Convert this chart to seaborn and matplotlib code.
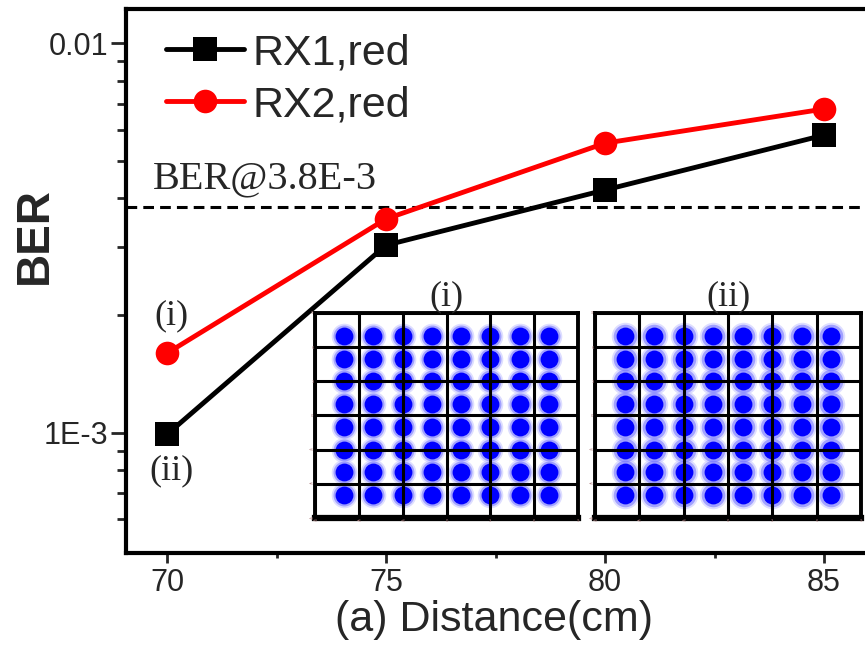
import numpy as np
import pandas as pd
import matplotlib.pyplot as plt
import seaborn as sns
from matplotlib.ticker import FixedLocator, NullFormatter

# BER vs distance
distance = [70, 75, 80, 85]
ber_rx1 = [0.00099, 0.00303, 0.0042, 0.00581]
ber_rx2 = [0.0016, 0.00354, 0.00554, 0.00678]
ber_limit = 3.8e-3

# 64-QAM constellation levels for the insets
qam_levels = [-7, -5, -3, -1, 1, 3, 5, 7]
inset_ticks = [-9, -6, -3, 0, 3, 6, 9]

sns.set_style("ticks")
plt.rcParams['font.family'] = ['Liberation Sans', 'DejaVu Sans']

fig = plt.figure(figsize=(8.65, 6.48), dpi=100)
ax = fig.add_axes([0.1457, 0.1466, 0.9082, 0.8395])

sns.lineplot(x=distance, y=ber_rx1, ax=ax, color='black', marker='s',
             markersize=17, markeredgewidth=0, linewidth=3.5, label='RX1,red')
sns.lineplot(x=distance, y=ber_rx2, ax=ax, color='red', marker='o',
             markersize=17, markeredgewidth=0, linewidth=3.5, label='RX2,red')
ax.axhline(ber_limit, color='black', linewidth=2.2, dashes=(3.5, 2), zorder=1)

ax.set_yscale('log')
ax.set_xlim(69.064, 87)
ax.set_ylim(4.91e-4, 1.2246e-2)

ax.yaxis.set_major_locator(FixedLocator([1e-3, 1e-2]))
ax.set_yticklabels(['1E-3', '0.01'])
minor_y = [6e-4, 7e-4, 8e-4, 9e-4] + [k * 1e-3 for k in range(2, 10)]
ax.yaxis.set_minor_locator(FixedLocator(minor_y))
ax.yaxis.set_minor_formatter(NullFormatter())
ax.xaxis.set_major_locator(FixedLocator(distance))
ax.xaxis.set_minor_locator(FixedLocator([72.5, 77.5, 82.5]))

ax.tick_params(axis='y', which='major', direction='out', length=11, width=2,
               labelsize=22, pad=2, left=True)
ax.tick_params(axis='y', which='minor', direction='out', length=6.5, width=2, left=True)
ax.tick_params(axis='x', which='major', direction='out', length=7, width=2,
               labelsize=22, pad=4, bottom=True)
ax.tick_params(axis='x', which='minor', direction='out', length=3.5, width=2, bottom=True)

for side in ['left', 'bottom', 'top']:
    ax.spines[side].set_linewidth(3)
    ax.spines[side].set_color('black')
ax.spines['right'].set_visible(False)

ax.set_ylabel('BER', fontsize=33, fontweight='bold')
ax.yaxis.label.set_va('center')
ax.yaxis.set_label_coords(-0.1158, 0.5827)
ax.set_xlabel('(a) Distance(cm)', fontsize=31)
ax.xaxis.label.set_va('center')
ax.xaxis.set_label_coords(0.4684, -0.123)

ax.legend(loc='upper left', bbox_to_anchor=(166 / 865, 1 - 33 / 648),
          bbox_transform=fig.transFigure, frameon=False, fontsize=31,
          handlelength=1.8, handletextpad=0.2, labelspacing=0.28,
          borderpad=0, borderaxespad=0)

serif = ['Liberation Serif', 'DejaVu Serif']
ax.text(69.68, 0.00425, 'BER@3.8E-3', family=serif, fontsize=29, va='baseline')
ax.text(70.1, 0.00199, '(i)', family=serif, fontsize=26, ha='center', va='center')
ax.text(70.1, 0.000797, '(ii)', family=serif, fontsize=26, ha='center', va='center')

# constellation insets
gx, gy = np.meshgrid(qam_levels, qam_levels)
const = pd.DataFrame({'I': gx.ravel(), 'Q': gy.ravel()})

insets = [([315 / 865, 0.2006, 263 / 865, 0.3164], '(i)', 1.0),
          ([595 / 865, 0.2006, 266 / 865, 0.3164], '(ii)', 1.15)]
for rect, title, spread in insets:
    ia = fig.add_axes(rect)
    sns.scatterplot(data=const, x='I', y='Q', ax=ia, s=340 * spread, color='#c8c8ff',
                    alpha=0.6, linewidth=0, legend=False)
    sns.scatterplot(data=const, x='I', y='Q', ax=ia, s=250 * spread, color='#7070ff',
                    alpha=0.55, linewidth=0, legend=False)
    sns.scatterplot(data=const, x='I', y='Q', ax=ia, s=165, color='#0000ff',
                    linewidth=0, legend=False)
    ia.set_xlim(-9, 9)
    ia.set_ylim(-9, 9)
    ia.set_xticks(inset_ticks)
    ia.set_yticks(inset_ticks)
    ia.set_axisbelow(False)
    ia.grid(True, color='black', linewidth=2.2)
    ia.tick_params(length=0, labelsize=3, labelcolor='#b08080', pad=1)
    ia.set_xlabel('')
    ia.set_ylabel('')
    for sp in ia.spines.values():
        sp.set_linewidth(2.8)
        sp.set_color('black')
    ia.spines['bottom'].set_linewidth(4.5)
    ia.set_title(title, family=serif, fontsize=26, pad=2)

fig.savefig('out.png', dpi=100)
